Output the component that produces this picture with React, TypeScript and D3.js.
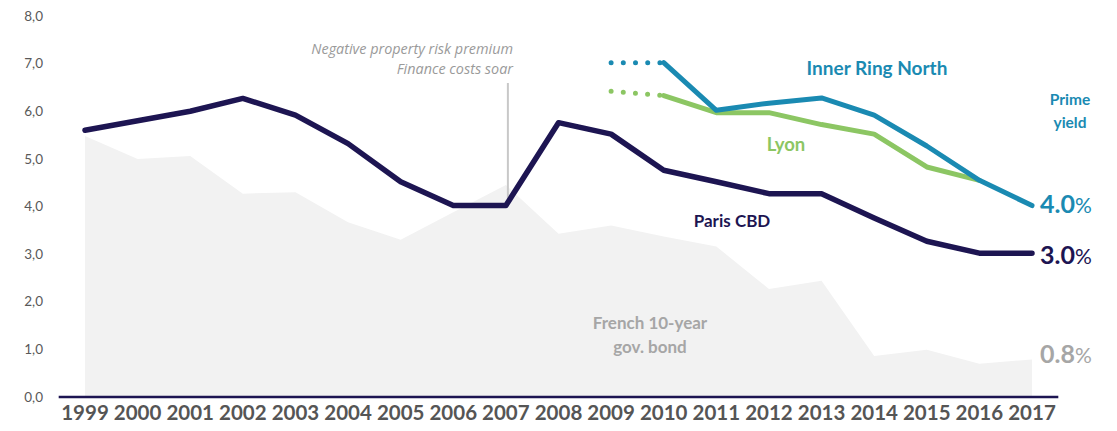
import React from "react";
import * as d3 from "d3";

const years = ["1999","2000","2001","2002","2003","2004","2005","2006","2007","2008","2009","2010","2011","2012","2013","2014","2015","2016","2017"];
const yTicks = [0, 1, 2, 3, 4, 5, 6, 7, 8];
const parisCBD = [5.6, 5.8, 6.0, 6.27, 5.92, 5.32, 4.52, 4.02, 4.02, 5.76, 5.52, 4.76, 4.52, 4.27, 4.27, 3.76, 3.27, 3.02, 3.02];
const bond10y = [5.48, 5.0, 5.06, 4.27, 4.3, 3.67, 3.3, 3.88, 4.45, 3.43, 3.6, 3.37, 3.16, 2.27, 2.44, 0.86, 0.99, 0.7, 0.79];
const innerRingYears = ["2010","2011","2012","2013","2014","2015","2016","2017"];
const innerRingNorth = [7.02, 6.02, 6.17, 6.28, 5.92, 5.27, 4.55, 4.02];
const lyonYears = ["2010","2011","2012","2013","2014","2015","2016"];
const lyon = [6.33, 5.97, 5.97, 5.72, 5.52, 4.83, 4.55];
const innerRingDotted = [{ year: "2009", v: 7.02 }, { year: "2010", v: 7.02 }];
const lyonDotted = [{ year: "2009", v: 6.42 }, { year: "2010", v: 6.33 }];

const NAVY = "#1d1552";
const TEAL = "#1a8ab2";
const GREEN = "#8cc663";
const GREY_TXT = "#a6a6a6";
const FONT = "Lato, 'Open Sans', sans-serif";

export default function App() {
  const W = 1117, H = 431;
  const x = d3.scalePoint<string>().domain(years).range([85, 1032]);
  const y = d3.scaleLinear().domain([0, 8]).range([397, 16]);
  const step = x.step();

  const area = d3.area<number>()
    .x((_, i) => x(years[i])!)
    .y0(y(0))
    .y1((d) => y(d));

  const lineFor = (ys: string[]) =>
    d3.line<number>().x((_, i) => x(ys[i])!).y((d) => y(d));

  const dotted = d3.line<{ year: string; v: number }>().x((d) => x(d.year)!).y((d) => y(d.v));

  const x2007 = x("2007")!;

  return (
    <svg width={W} height={H} style={{ position: "absolute", left: 0, top: 0, background: "#fff" }} fontFamily={FONT}>
      <path d={area(bond10y)!} fill="#f2f2f2" />

      {/* y tick labels */}
      {yTicks.map((t) => (
        <text key={t} x={43} y={y(t)} dy="0.35em" textAnchor="end" fontSize={13.5} fill="#595959">
          {t.toFixed(1).replace(".", ",")}
        </text>
      ))}

      {/* x axis */}
      <line x1={x(years[0])! - step / 2} x2={x(years[years.length - 1])! + step / 2} y1={y(0)} y2={y(0)} stroke={NAVY} strokeWidth={2.5} />
      {years.map((yr) => (
        <text key={yr} x={x(yr)} y={413} dy="0.36em" textAnchor="middle" fontSize={20.5} fontWeight={700} fill="#555555">
          {yr}
        </text>
      ))}

      {/* annotation */}
      <line x1={x2007 + 2} x2={x2007 + 2} y1={83} y2={y(parisCBD[8])} stroke="#c8c8c8" strokeWidth={2} />
      <text x={513} y={49} dy="0.35em" textAnchor="end" fontSize={14.4} fontStyle="italic" fontFamily="'Open Sans', sans-serif" fill="#9a9a9a">
        Negative property risk premium
      </text>
      <text x={513} y={69} dy="0.35em" textAnchor="end" fontSize={14.4} fontStyle="italic" fontFamily="'Open Sans', sans-serif" fill="#9a9a9a">
        Finance costs soar
      </text>

      {/* dotted extensions */}
      <path d={dotted(innerRingDotted)!} fill="none" stroke={TEAL} strokeWidth={5} strokeLinecap="round" strokeDasharray="0 12.2" />
      <path d={dotted(lyonDotted)!} fill="none" stroke={GREEN} strokeWidth={5} strokeLinecap="round" strokeDasharray="0 12.2" />

      {/* lines */}
      <path d={lineFor(lyonYears)(lyon)!} fill="none" stroke={GREEN} strokeWidth={5} strokeLinejoin="round" strokeLinecap="round" />
      <path d={lineFor(innerRingYears)(innerRingNorth)!} fill="none" stroke={TEAL} strokeWidth={5} strokeLinejoin="round" strokeLinecap="round" />
      <path d={lineFor(years)(parisCBD)!} fill="none" stroke={NAVY} strokeWidth={5.5} strokeLinejoin="round" strokeLinecap="round" />

      {/* series labels */}
      <text x={877} y={68} dy="0.35em" textAnchor="middle" fontSize={19} fontWeight={700} fill={TEAL}>Inner Ring North</text>
      <text x={1070} y={100} dy="0.35em" textAnchor="middle" fontSize={15.5} fontWeight={700} fill={TEAL}>Prime</text>
      <text x={1070} y={123} dy="0.35em" textAnchor="middle" fontSize={15.5} fontWeight={700} fill={TEAL}>yield</text>
      <text x={786} y={145} dy="0.35em" textAnchor="middle" fontSize={18.5} fontWeight={700} fill={GREEN}>Lyon</text>
      <text x={732} y={221} dy="0.35em" textAnchor="middle" fontSize={17} fontWeight={700} fill={NAVY}>Paris CBD</text>
      <text x={650} y={323} dy="0.35em" textAnchor="middle" fontSize={17} fontWeight={700} fill={GREY_TXT}>French 10-year</text>
      <text x={650} y={347} dy="0.35em" textAnchor="middle" fontSize={17} fontWeight={700} fill={GREY_TXT}>gov. bond</text>

      {/* end values */}
      <text x={1040} y={207} dy="0.36em" fill={TEAL}>
        <tspan fontSize={25} fontWeight={700}>4.0</tspan>
        <tspan fontSize={21} fontWeight={400}>%</tspan>
      </text>
      <text x={1040} y={258} dy="0.36em" fill={NAVY}>
        <tspan fontSize={25} fontWeight={700}>3.0</tspan>
        <tspan fontSize={21} fontWeight={400}>%</tspan>
      </text>
      <text x={1040} y={357} dy="0.36em" fill={GREY_TXT}>
        <tspan fontSize={25} fontWeight={700}>0.8</tspan>
        <tspan fontSize={21} fontWeight={400}>%</tspan>
      </text>
    </svg>
  );
}
